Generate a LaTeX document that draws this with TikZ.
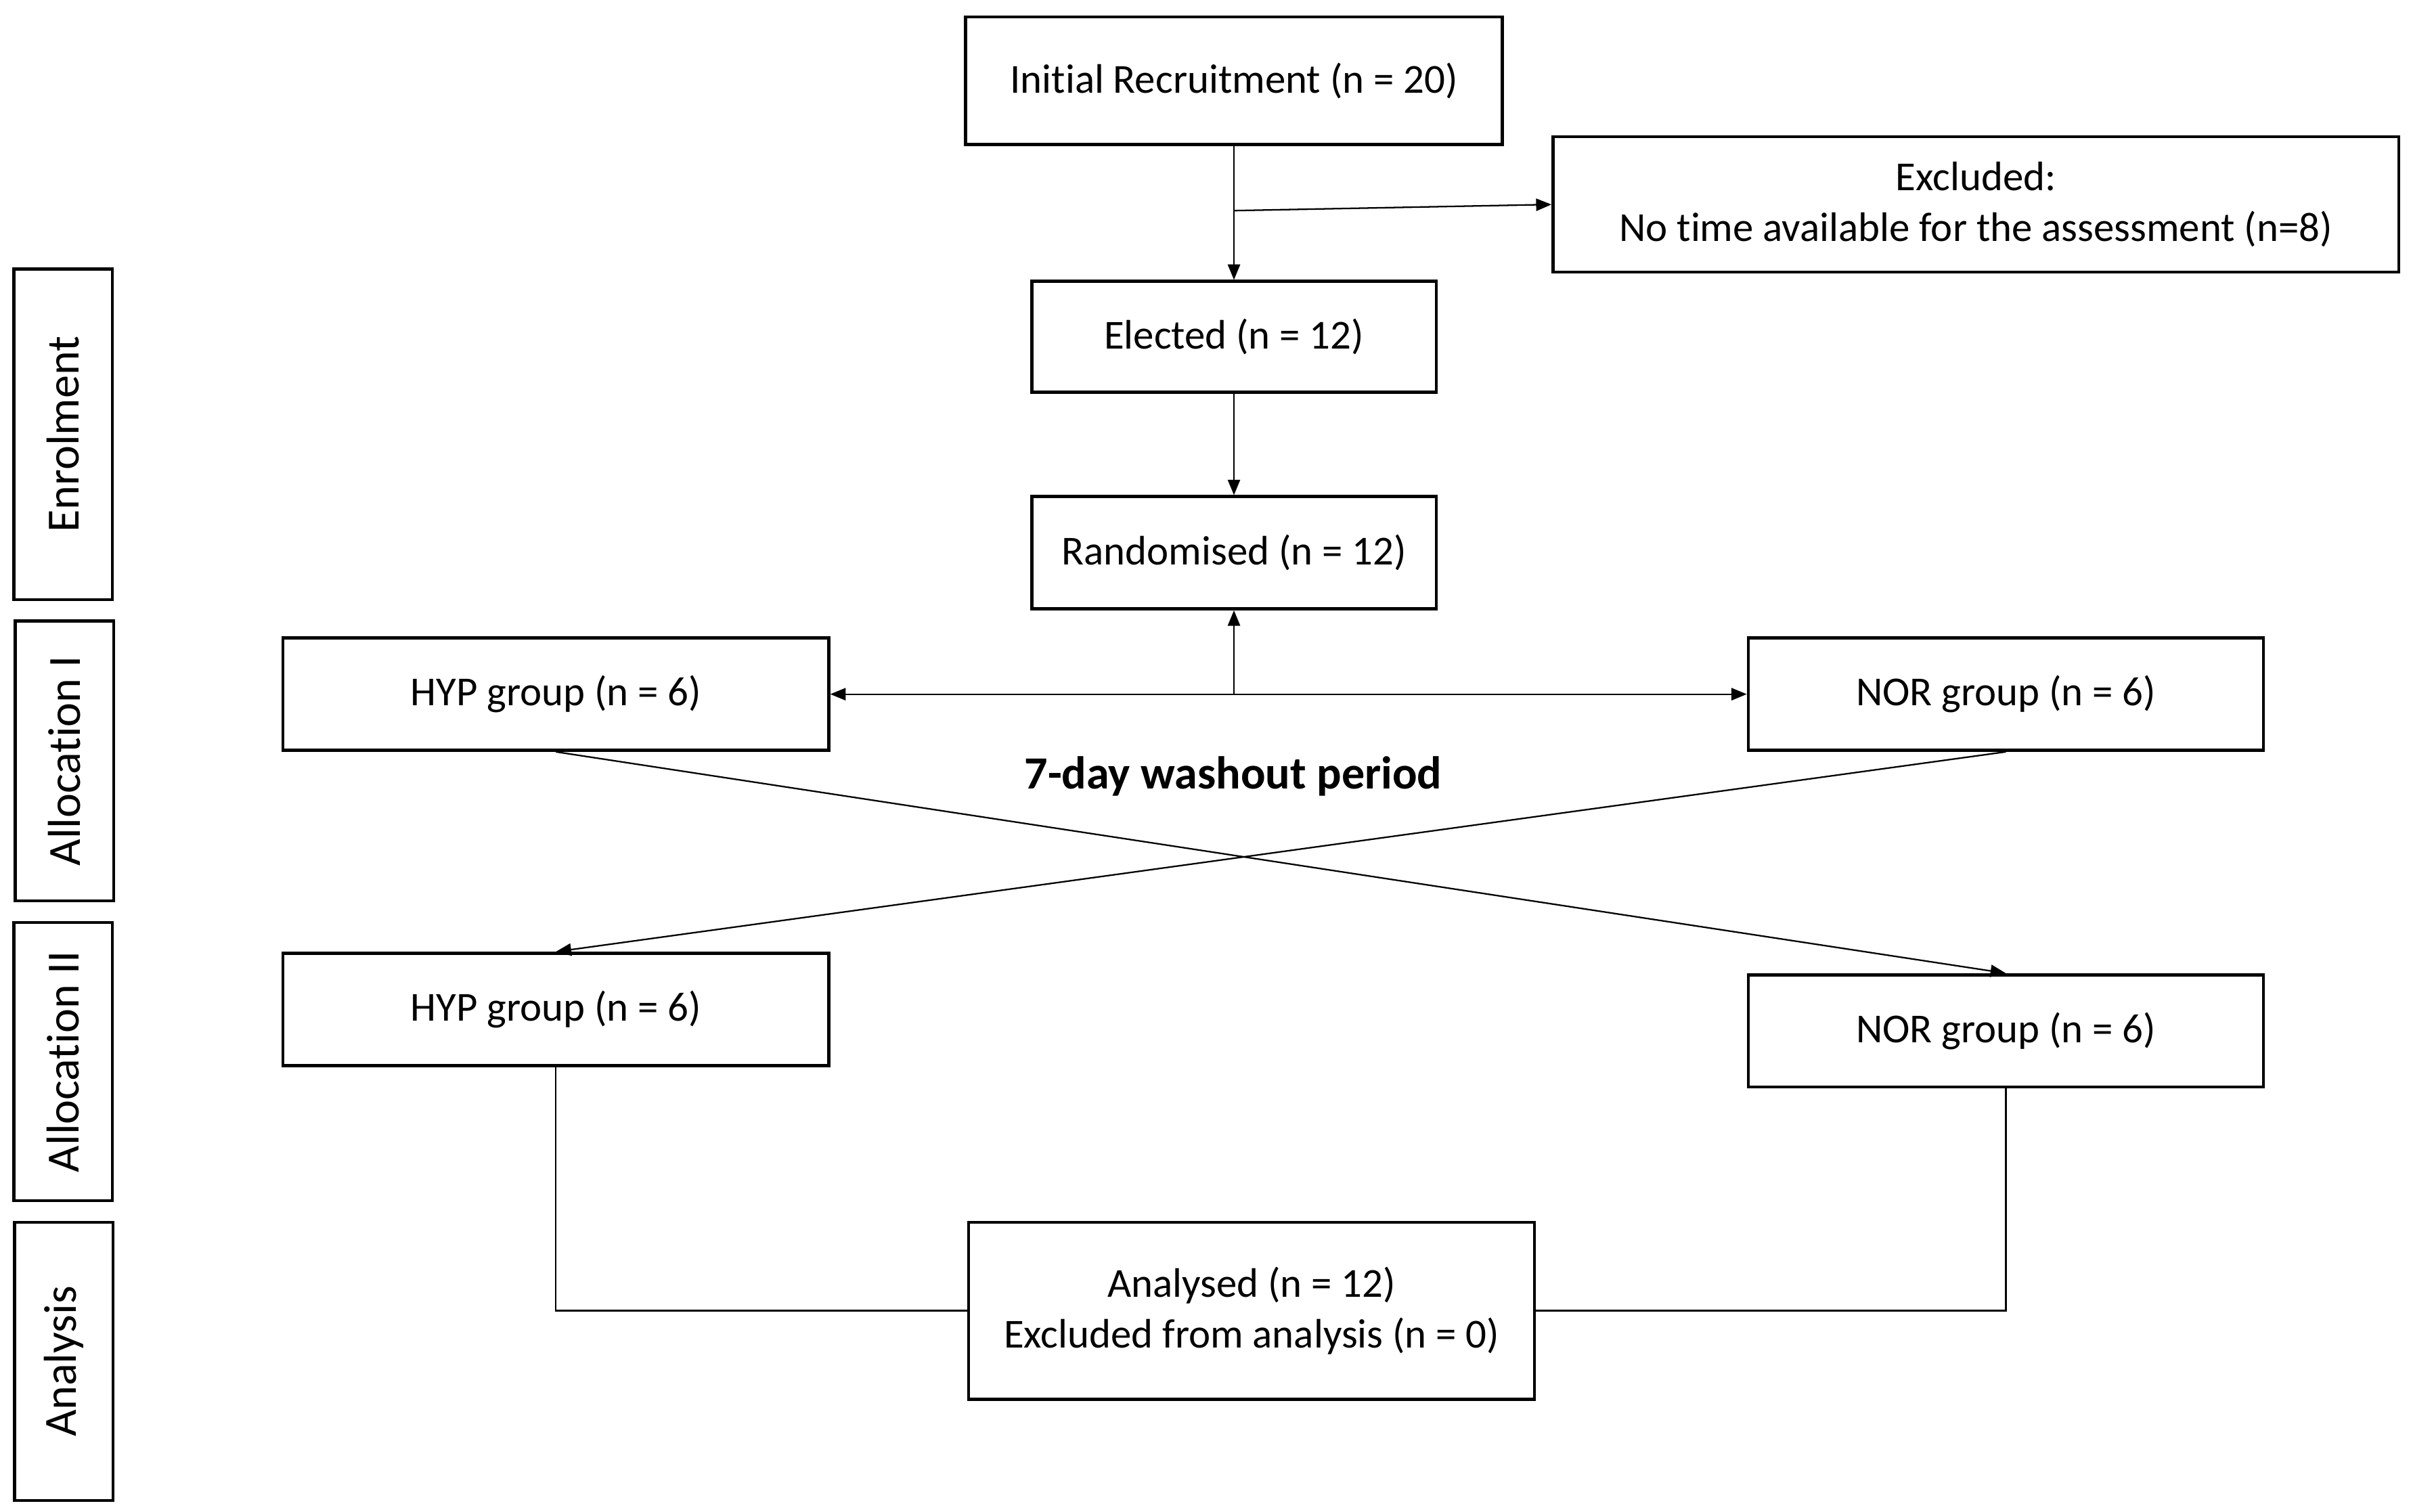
\documentclass[tikz,border=0pt]{standalone}
\usepackage{fontspec}
\setmainfont{Carlito}[Ligatures=NoCommon]
\usetikzlibrary{arrows.meta}
\begin{document}
\begin{tikzpicture}[x=0.5pt,y=-0.5pt,
  box/.style={draw, line width=1pt, inner sep=0pt, align=center, font=\fontsize{13.4}{16.5}\selectfont},
  side/.style={draw, line width=1pt, inner sep=0pt, rotate=90, minimum height=32pt, font=\fontsize{15}{18}\selectfont},
  conn/.style={line width=0.5pt},
  arr/.style={conn, -{Triangle[length=5pt,width=4pt]}}]
\useasboundingbox (0,0) rectangle (1568,983.4);
% side labels
\node[side, minimum width=107.5pt] (s1) at (41,282.5) {Enrolment};
\node[side, minimum width=91pt] (s2) at (42,495) {Allocation I};
\node[side, minimum width=90.5pt] (s3) at (41,690.5) {Allocation II};
\node[side, minimum width=90.5pt] (s4) at (41.5,885.5) {Analysis};
% boxes
\node[box, minimum width=174.5pt, minimum height=41.5pt] (init) at (802.5,52.5) {Initial Recruitment (n = 20)};
\node[box, minimum width=275pt, minimum height=44pt] (excl) at (1285,133) {Excluded:\\No time available for the assessment (n=8)};
\node[box, minimum width=131.5pt, minimum height=36pt] (elect) at (802.5,219) {Elected (n = 12)};
\node[box, minimum width=131.5pt, minimum height=36.5pt] (rand) at (802.5,359.5) {Randomised (n = 12)};
\node[box, minimum width=177.5pt, minimum height=36.5pt] (hyp1) at (361.5,451.5) {HYP group (n = 6)};
\node[box, minimum width=167.5pt, minimum height=36.5pt] (nor1) at (1304.5,451.5) {NOR group (n = 6)};
\node[box, minimum width=177.5pt, minimum height=36.5pt] (hyp2) at (361.5,656.5) {HYP group (n = 6)};
\node[box, minimum width=167.5pt, minimum height=36.5pt] (nor2) at (1304.5,670.5) {NOR group (n = 6)};
\node[box, minimum width=184pt, minimum height=57.5pt] (anal) at (814,852.5) {Analysed (n = 12)\\Excluded from analysis (n = 0)};
\node[font=\fontsize{15}{18}\selectfont\bfseries, inner sep=0pt] (wash) at (802,505) {7-day washout period};
% connectors
\coordinate (b1) at (802.5,137);
\coordinate (b2) at (802.5,451.5);
\draw[arr] (init) -- (elect);
\draw[arr] (b1) -- (excl.west);
\draw[arr] (elect) -- (rand);
\draw[arr] (b2) -- (rand.south);
\draw[arr] (b2) -- (hyp1.east);
\draw[arr] (b2) -- (nor1.west);
\draw[arr] (hyp1.south) -- (nor2.north);
\draw[arr] (nor1.south) -- (hyp2.north);
\draw[conn] (hyp2.south) |- (anal.west);
\draw[conn] (nor2.south) |- (anal.east);
\end{tikzpicture}
\end{document}
